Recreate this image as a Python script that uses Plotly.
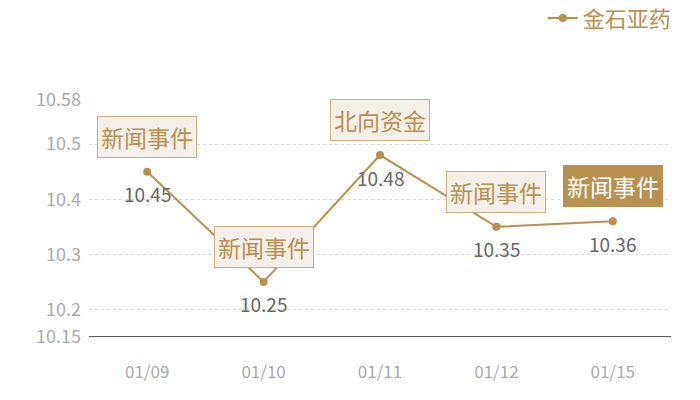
import plotly.graph_objects as go

# data
dates = ["01/09", "01/10", "01/11", "01/12", "01/15"]
prices = [10.45, 10.25, 10.48, 10.35, 10.36]
events = ["新闻事件", "新闻事件", "北向资金", "新闻事件", "新闻事件"]
highlight = [False, False, False, False, True]
y_ticks = [10.15, 10.2, 10.3, 10.4, 10.5, 10.58]
series_name = "金石亚药"

gold = "#b8904f"
font_family = "Noto Sans CJK SC, Noto Sans, sans-serif"

fig = go.Figure()
fig.add_trace(go.Scatter(
    x=dates, y=prices, name=series_name,
    mode="lines+markers",
    line=dict(color=gold, width=2),
    marker=dict(size=8, color=gold),
))

# value labels under the points, event tags above
for d, p, ev, hl in zip(dates, prices, events, highlight):
    fig.add_annotation(
        x=d, y=p, text=f"{p:.2f}", showarrow=False, yshift=-22,
        font=dict(size=19, color="#666666"),
    )
    fig.add_annotation(
        x=d, y=p, text=ev, showarrow=False, yshift=35,
        font=dict(size=23, color="white" if hl else gold),
        bgcolor=gold if hl else "#f4efe9",
        bordercolor=gold if hl else "#cfae7e",
        borderwidth=1, borderpad=3,
    )

fig.update_layout(
    width=700, height=400,
    margin=dict(l=89, r=29, t=100, b=63, autoexpand=False),
    plot_bgcolor="white", paper_bgcolor="white",
    font=dict(family=font_family),
    showlegend=True,
    legend=dict(orientation="h", x=1.01, xanchor="right", y=1.345, yanchor="middle",
                font=dict(size=22, color=gold), bgcolor="rgba(0,0,0,0)",
                itemwidth=30),
    xaxis=dict(type="category", range=[-0.5, len(dates) - 0.5],
               showgrid=False, showline=False, zeroline=False,
               ticks="outside", ticklen=20, tickcolor="rgba(0,0,0,0)",
               tickfont=dict(size=17, color="#aaaaaa")),
    yaxis=dict(range=[10.15, 10.58], tickvals=y_ticks, ticktext=[str(v) for v in y_ticks],
               showgrid=True, gridcolor="#d8d8d8", griddash="dot", zeroline=False,
               showline=False, ticks="", ticklabelstandoff=7,
               tickfont=dict(size=18, color="#aaaaaa")),
)
# baseline at the bottom of the range
fig.add_shape(type="line", xref="paper", yref="y", x0=0, x1=1, y0=10.15, y1=10.15,
              line=dict(color="#222222", width=1.5))

# drop the default page margin so the figure sits at the window's corner
fig.write_html("out.html", config={"displayModeBar": False},
               post_script="document.body.style.margin='0';")
